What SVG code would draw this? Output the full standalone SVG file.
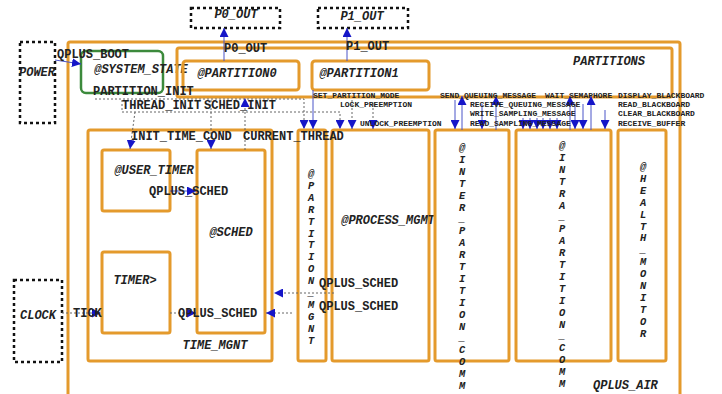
<svg xmlns="http://www.w3.org/2000/svg" width="722" height="394" viewBox="0 0 722 394">
<style>
.bg{fill:#ffffff}
.obox{fill:none;stroke:#E49A2C;stroke-width:3}
.gbox{fill:none;stroke:#3C8A3C;stroke-width:2.5}
.dbox{fill:none;stroke:#111;stroke-width:2.5;stroke-dasharray:3,3}
.nl{font-family:"Liberation Mono",monospace;font-weight:bold;font-style:italic;font-size:12px;fill:#222}
.vl{font-family:"Liberation Mono",monospace;font-weight:bold;font-style:italic;font-size:10.4px;fill:#222;text-anchor:middle}
.cl{font-family:"Liberation Mono",monospace;font-weight:bold;font-size:12px;fill:#222}
.sl{font-family:"Liberation Mono",monospace;font-weight:bold;font-size:8px;fill:#222}
.sol{fill:none;stroke:#4B55C8;stroke-width:1}
.dot{fill:none;stroke:#666;stroke-width:1;stroke-dasharray:2,2}
</style>
<defs>
<marker id="ah" viewBox="0 0 10 10" refX="10" refY="5" markerWidth="9" markerHeight="9" markerUnits="userSpaceOnUse" orient="auto">
<path d="M0,0 L10,5 L0,10 z" fill="#1515C8"/>
</marker>
</defs>
<rect class="bg" x="0" y="0" width="722" height="394"/>

<g id="qplus_air"><rect class="obox" x="68" y="42" width="612" height="360" rx="2"/><text class="nl" x="593" y="389">QPLUS_AIR</text></g>
<g id="power"><rect class="dbox" x="20" y="42" width="35" height="81"/><text class="nl" x="37" y="76" text-anchor="middle" font-size="10">POWER</text></g>
<g id="p0_out"><rect class="dbox" x="191" y="8" width="89" height="20"/><text class="nl" x="236" y="18" text-anchor="middle">P0_OUT</text></g>
<g id="p1_out"><rect class="dbox" x="318" y="8" width="90" height="20"/><text class="nl" x="362" y="20" text-anchor="middle">P1_OUT</text></g>
<g id="clock"><rect class="dbox" x="14" y="280" width="48" height="82"/><text class="nl" x="38" y="319" text-anchor="middle" font-size="10">CLOCK</text></g>
<g id="system_state"><rect class="gbox" x="81" y="51" width="82" height="42" rx="5"/><text class="nl" x="141" y="73" text-anchor="middle">@SYSTEM_STATE</text></g>
<g id="partitions"><rect class="obox" x="177" y="48" width="495" height="49" rx="2"/><text class="nl" x="609" y="65" text-anchor="middle">PARTITIONS</text></g>
<g id="partition0"><rect class="obox" x="183" y="61" width="116" height="29" rx="3"/><text class="nl" x="237" y="77" text-anchor="middle">@PARTITION0</text></g>
<g id="partition1"><rect class="obox" x="312" y="61" width="117" height="29" rx="3"/><text class="nl" x="359" y="77" text-anchor="middle">@PARTITION1</text></g>
<g id="time_mgnt"><rect class="obox" x="88" y="130" width="184" height="231" rx="2"/><text class="nl" x="215" y="349" text-anchor="middle">TIME_MGNT</text></g>
<g id="user_timer"><rect class="obox" x="102" y="150" width="68" height="61" rx="2"/><text class="nl" x="154" y="174" text-anchor="middle">@USER_TIMER</text></g>
<g id="timer"><rect class="obox" x="102" y="252" width="68" height="81" rx="2"/><text class="nl" x="135" y="284" text-anchor="middle">TIMER&gt;</text></g>
<g id="sched"><rect class="obox" x="197" y="150" width="68" height="183" rx="2"/><text class="nl" x="231" y="236" text-anchor="middle">@SCHED</text></g>
<g id="partition_mgnt"><rect class="obox" x="298" y="130" width="28" height="231" rx="2"/>
<text class="vl" x="311" y="177"><tspan x="311">@</tspan><tspan x="311" dy="11.9">P</tspan><tspan x="311" dy="11.9">A</tspan><tspan x="311" dy="11.9">R</tspan><tspan x="311" dy="11.9">T</tspan><tspan x="311" dy="11.9">I</tspan><tspan x="311" dy="11.9">T</tspan><tspan x="311" dy="11.9">I</tspan><tspan x="311" dy="11.9">O</tspan><tspan x="311" dy="11.9">N</tspan><tspan x="311" dy="11.9">_</tspan><tspan x="311" dy="11.9">M</tspan><tspan x="311" dy="11.9">G</tspan><tspan x="311" dy="11.9">N</tspan><tspan x="311" dy="11.9">T</tspan></text></g>
<g id="process_mgmt"><rect class="obox" x="332" y="130" width="97" height="231" rx="2"/><text class="nl" x="388" y="224" text-anchor="middle">@PROCESS_MGMT</text></g>
<g id="inter_partition_comm"><rect class="obox" x="435" y="130" width="74" height="231" rx="2"/>
<text class="vl" x="462" y="151"><tspan x="462">@</tspan><tspan x="462" dy="11.9">I</tspan><tspan x="462" dy="11.9">N</tspan><tspan x="462" dy="11.9">T</tspan><tspan x="462" dy="11.9">E</tspan><tspan x="462" dy="11.9">R</tspan><tspan x="462" dy="11.9">_</tspan><tspan x="462" dy="11.9">P</tspan><tspan x="462" dy="11.9">A</tspan><tspan x="462" dy="11.9">R</tspan><tspan x="462" dy="11.9">T</tspan><tspan x="462" dy="11.9">I</tspan><tspan x="462" dy="11.9">T</tspan><tspan x="462" dy="11.9">I</tspan><tspan x="462" dy="11.9">O</tspan><tspan x="462" dy="11.9">N</tspan><tspan x="462" dy="11.9">_</tspan><tspan x="462" dy="11.9">C</tspan><tspan x="462" dy="11.9">O</tspan><tspan x="462" dy="11.9">M</tspan><tspan x="462" dy="11.9">M</tspan></text></g>
<g id="intra_partition_comm"><rect class="obox" x="516" y="130" width="95" height="231" rx="2"/>
<text class="vl" x="562" y="149"><tspan x="562">@</tspan><tspan x="562" dy="11.9">I</tspan><tspan x="562" dy="11.9">N</tspan><tspan x="562" dy="11.9">T</tspan><tspan x="562" dy="11.9">R</tspan><tspan x="562" dy="11.9">A</tspan><tspan x="562" dy="11.9">_</tspan><tspan x="562" dy="11.9">P</tspan><tspan x="562" dy="11.9">A</tspan><tspan x="562" dy="11.9">R</tspan><tspan x="562" dy="11.9">T</tspan><tspan x="562" dy="11.9">I</tspan><tspan x="562" dy="11.9">T</tspan><tspan x="562" dy="11.9">I</tspan><tspan x="562" dy="11.9">O</tspan><tspan x="562" dy="11.9">N</tspan><tspan x="562" dy="11.9">_</tspan><tspan x="562" dy="11.9">C</tspan><tspan x="562" dy="11.9">O</tspan><tspan x="562" dy="11.9">M</tspan><tspan x="562" dy="11.9">M</tspan></text></g>
<g id="health_monitor"><rect class="obox" x="618" y="130" width="48" height="231" rx="2"/>
<text class="vl" x="643" y="170"><tspan x="643">@</tspan><tspan x="643" dy="11.9">H</tspan><tspan x="643" dy="11.9">E</tspan><tspan x="643" dy="11.9">A</tspan><tspan x="643" dy="11.9">L</tspan><tspan x="643" dy="11.9">T</tspan><tspan x="643" dy="11.9">H</tspan><tspan x="643" dy="11.9">_</tspan><tspan x="643" dy="11.9">M</tspan><tspan x="643" dy="11.9">O</tspan><tspan x="643" dy="11.9">N</tspan><tspan x="643" dy="11.9">I</tspan><tspan x="643" dy="11.9">T</tspan><tspan x="643" dy="11.9">O</tspan><tspan x="643" dy="11.9">R</tspan></text></g>

<g id="connectors">
<path class="sol" d="M55,60 L81,64" marker-end="url(#ah)"/>
<path class="sol" d="M224,61 V28" marker-end="url(#ah)"/>
<path class="sol" d="M347,61 V28" marker-end="url(#ah)"/>
<path class="dot" d="M95,99 H304 V129" marker-end="url(#ah)"/>
<path class="dot" d="M122,100 V112 H340 V129" marker-end="url(#ah)"/>
<path class="dot" d="M135,112 L130,149" marker-end="url(#ah)"/>
<path class="dot" d="M211,100 V149" marker-end="url(#ah)"/>
<path class="dot" d="M245,150 V98" marker-end="url(#ah)"/>
<path class="sol" d="M313,90 V129" marker-end="url(#ah)"/>
<path class="dot" d="M352,100 V129" marker-end="url(#ah)"/>
<path class="dot" d="M373,104 V129" marker-end="url(#ah)"/>
<path class="sol" d="M455,100 V129" marker-end="url(#ah)"/>
<path class="sol" d="M462,130 V96" marker-end="url(#ah)"/>
<path class="sol" d="M482,104 V129" marker-end="url(#ah)"/>
<path class="sol" d="M496,130 V96" marker-end="url(#ah)"/>
<path class="sol" d="M523,118 V129" marker-end="url(#ah)"/>
<path class="sol" d="M530,118 V129" marker-end="url(#ah)"/>
<path class="sol" d="M537,118 V129" marker-end="url(#ah)"/>
<path class="sol" d="M543,118 V129" marker-end="url(#ah)"/>
<path class="sol" d="M550,118 V129" marker-end="url(#ah)"/>
<path class="sol" d="M557,118 V129" marker-end="url(#ah)"/>
<path class="sol" d="M570,130 V96" marker-end="url(#ah)"/>
<path class="sol" d="M575,104 V129" marker-end="url(#ah)"/>
<path class="sol" d="M583,104 V129" marker-end="url(#ah)"/>
<path class="sol" d="M591,130 V96" marker-end="url(#ah)"/>
<path class="sol" d="M605,110 V129" marker-end="url(#ah)"/>
<path class="sol" d="M170,191 H196" marker-end="url(#ah)"/>
<path class="dot" d="M62,313 H101" marker-end="url(#ah)"/>
<path class="dot" d="M170,313 H196" marker-end="url(#ah)"/>
<path class="dot" d="M334,293 H274" marker-end="url(#ah)"/>
<path class="dot" d="M292,313 H266" marker-end="url(#ah)"/>

<text class="cl" x="57" y="58">QPLUS_BOOT</text>
<text class="cl" x="224" y="52">P0_OUT</text>
<text class="cl" x="346" y="50">P1_OUT</text>
<text class="cl" x="93" y="95">PARTITION_INIT</text>
<text class="cl" x="122" y="109">THREAD_INIT</text>
<text class="cl" x="204" y="109">SCHED_INIT</text>
<text class="cl" x="131" y="140">INIT_TIME_COND</text>
<text class="cl" x="243" y="140">CURRENT_THREAD</text>
<text class="sl" x="313" y="98">SET_PARTITION_MODE</text>
<text class="sl" x="340" y="107.2">LOCK_PREEMPTION</text>
<text class="sl" x="360" y="125.6">UNLOCK_PREEMPTION</text>
<text class="sl" x="440" y="98">SEND_QUEUING_MESSAGE</text>
<text class="sl" x="470" y="107.2">RECEIVE_QUEUING_MESSAGE</text>
<text class="sl" x="470" y="116.4">WRITE_SAMPLING_MESSAGE</text>
<text class="sl" x="470" y="125.6">READ_SAMPLING_MESSAGE</text>
<text class="sl" x="545" y="98">WAIT_SEMAPHORE</text>
<text class="sl" x="618" y="98">DISPLAY_BLACKBOARD</text>
<text class="sl" x="618" y="107.2">READ_BLACKBOARD</text>
<text class="sl" x="618" y="116.4">CLEAR_BLACKBOARD</text>
<text class="sl" x="618" y="125.6">RECEIVE_BUFFER</text>
<text class="cl" x="149" y="195">QPLUS_SCHED</text>
<text class="cl" x="73" y="317">TICK</text>
<text class="cl" x="178" y="317">QPLUS_SCHED</text>
<text class="cl" x="319" y="287">QPLUS_SCHED</text>
<text class="cl" x="319" y="310">QPLUS_SCHED</text>
</g>
</svg>
